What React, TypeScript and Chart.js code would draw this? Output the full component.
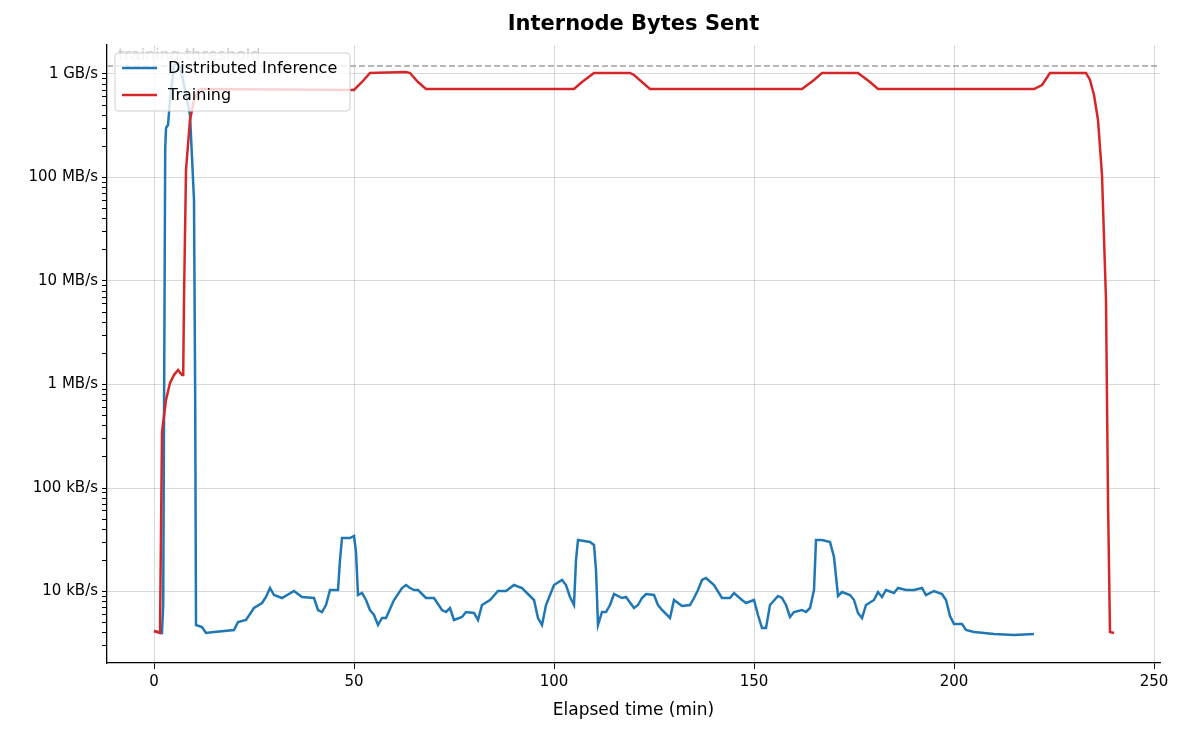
import React, { useEffect, useRef } from "react";
import { Chart, registerables } from "chart.js";
Chart.register(...registerables);

const PX_PER_DEC = 103.5;
const py = (p: number) => 1e9 * Math.pow(10, -(p - 74) / PX_PER_DEC);

const infT = [0,2,2.3,2.8,3,3.5,4,5,6,7,8,9,10,10.3,10.5,12,13,15,20,21,23,25,27,28,29,30,32,35,37,40,41,42,43,44,46,46.5,47,49,50,50.5,51,52,53,54,55,56,57,58,60,62,63,64,65,66,68,70,72,73,74,75,77,78,80,81,82,84,86,88,90,92,95,96,97,98,100,102,103,104,105,105.5,106,109,110,110.5,111,112,113,114,115,117,118,120,121,122,123,125,126,127,129,130,132,134,135,136,137,138,140,142,144,145,147,148,150,151,152,153,154,156,157,158,159,160,162,163,164,165,165.5,167,169,170,171,172,174,175,176,177,178,180,181,182,183,185,186,188,190,192,193,195,197,198,199,200,202,203,205,210,215,220];
const infPx = [631,633,605,150,128,125,100,65,63,75,95,115,200,400,625,627,633,632,630,622,620,608,603,597,588,595,598,591,597,598,610,612,605,590,590,560,538,538,536,552,595,593,600,610,615,625,618,618,600,588,585,588,590,590,598,598,610,612,608,620,617,612,613,620,605,600,591,591,585,588,600,618,625,605,585,580,585,597,605,560,540,542,545,570,625,612,612,605,594,598,597,608,605,598,594,595,605,610,618,600,606,605,598,590,580,578,585,598,598,593,600,603,600,615,628,628,605,596,598,605,617,612,610,612,608,590,540,540,542,557,596,592,595,600,613,618,605,600,592,597,590,593,588,590,590,588,595,591,594,600,616,624,624,630,632,634,635,634];
const trT = [0,1.5,2,3,4,5,6,7,7.3,7.5,8,9,10,11,12,50,52,54,63,64,66,68,105,107,110,119,120,124,160,162,165,167,176,179,181,220,222,224,233,234,235,236,237,238,238.5,239,240];
const trPx = [631,633,432,400,383,375,370,375,375,300,170,120,100,90,89,90,82,73,72,73,82,89,89,82,73,73,75,89,89,89,80,73,73,82,89,89,85,73,73,80,95,120,175,300,500,632,633];
const xTicks = [0, 50, 100, 150, 200, 250];
const threshold = py(66);

const fmt = (v: number) => {
  const e = Math.round(Math.log10(v));
  const units = ["B/s", "kB/s", "MB/s", "GB/s"];
  return `${Math.pow(10, e % 3)} ${units[Math.floor(e / 3)]}`;
};
const isMajor = (v: number) => Math.abs(Math.log10(v) - Math.round(Math.log10(v))) < 1e-6;
const FONT = "'DejaVu Sans', sans-serif";

export default function App() {
  const ref = useRef<HTMLCanvasElement>(null);
  useEffect(() => {
    const deco = {
      id: "deco",
      afterDraw(c: any) {
        const ctx = c.ctx;
        const a = c.chartArea;
        ctx.save();
        ctx.fillStyle = "#000";
        ctx.font = `bold 21px ${FONT}`;
        ctx.textAlign = "center";
        ctx.textBaseline = "middle";
        ctx.fillText("Internode Bytes Sent", (a.left + a.right) / 2, 25);
        ctx.font = `16px ${FONT}`;
        ctx.textAlign = "left";
        ctx.fillStyle = "rgba(150,150,150,0.5)";
        ctx.fillText("training threshold", 118, 56);
        const lx = 115, ly = 53, lw = 235, lh = 58;
        ctx.fillStyle = "rgba(255,255,255,0.8)";
        ctx.strokeStyle = "#d0d0d0";
        ctx.lineWidth = 1;
        ctx.beginPath();
        ctx.roundRect(lx, ly, lw, lh, 3);
        ctx.fill();
        ctx.stroke();
        const items: [string, string][] = [["Distributed Inference", "#1f77b4"], ["Training", "#d62728"]];
        items.forEach(([t, col], i) => {
          const y = ly + 15 + i * 27;
          ctx.strokeStyle = col;
          ctx.lineWidth = 2.5;
          ctx.beginPath();
          ctx.moveTo(lx + 7, y);
          ctx.lineTo(lx + 42, y);
          ctx.stroke();
          ctx.fillStyle = "#000";
          ctx.font = `16px ${FONT}`;
          ctx.fillText(t, lx + 53, y + 1);
        });
        ctx.restore();
      },
    };
    const chart = new Chart(ref.current!, {
      type: "line",
      data: {
        datasets: [
          {
            label: "threshold",
            data: [{ x: -11.75, y: threshold }, { x: 251.5, y: threshold }],
            borderColor: "#a0a0a0",
            borderDash: [6, 3],
            borderWidth: 1.3,
            pointRadius: 0,
          },
          {
            label: "Training",
            data: trT.map((t, i) => ({ x: t, y: py(trPx[i]) })),
            borderColor: "#d62728",
            borderWidth: 2.5,
            pointRadius: 0,
          },
          {
            label: "Distributed Inference",
            data: infT.map((t, i) => ({ x: t, y: py(infPx[i]) })),
            borderColor: "#1f77b4",
            borderWidth: 2.5,
            pointRadius: 0,
          },
        ],
      },
      options: {
        animation: false,
        responsive: false,
        layout: { padding: { top: 45, right: 23, left: 0, bottom: 14 } },
        plugins: { legend: { display: false }, title: { display: false }, tooltip: { enabled: false } },
        scales: {
          x: {
            type: "linear",
            min: -11.75,
            max: 251.5,
            afterBuildTicks: (ax: any) => { ax.ticks = xTicks.map((v) => ({ value: v })); },
            afterFit: (ax: any) => { ax.height = 62; },
            ticks: { color: "#000", font: { family: FONT, size: 15 }, padding: 4 },
            grid: { color: "rgba(0,0,0,0.15)", tickColor: "#000", tickLength: 6 },
            border: { color: "#000", width: 1.3 },
            title: { display: true, text: "Elapsed time (min)", color: "#000", font: { family: FONT, size: 17 }, padding: { top: 4 } },
          },
          y: {
            type: "logarithmic",
            min: py(663),
            max: py(45),
            afterBuildTicks: (ax: any) => {
              const t: any[] = [];
              for (let e = 3; e <= 9; e++) for (let m = 1; m <= 9; m++) {
                const v = m * Math.pow(10, e);
                if (v >= ax.min && v <= ax.max) t.push({ value: v });
              }
              ax.ticks = t;
            },
            afterFit: (ax: any) => { ax.width = 107; },
            ticks: {
              autoSkip: false,
              color: "#000",
              font: { family: FONT, size: 15 },
              padding: 4,
              callback: (v: any) => (isMajor(Number(v)) ? fmt(Number(v)) : ""),
            },
            grid: {
              color: (c: any) => (c.tick && isMajor(c.tick.value) ? "rgba(0,0,0,0.15)" : "rgba(0,0,0,0)"),
              tickColor: "#000",
              tickLength: 5,
            },
            border: { color: "#000", width: 1.3 },
          },
        },
      },
      plugins: [deco],
    } as any);
    return () => chart.destroy();
  }, []);
  return (
    <div style={{ position: "fixed", left: 0, top: 0, width: 1183, height: 739, background: "#fff" }}>
      <canvas ref={ref} width={1183} height={739} style={{ width: 1183, height: 739 }} />
    </div>
  );
}
